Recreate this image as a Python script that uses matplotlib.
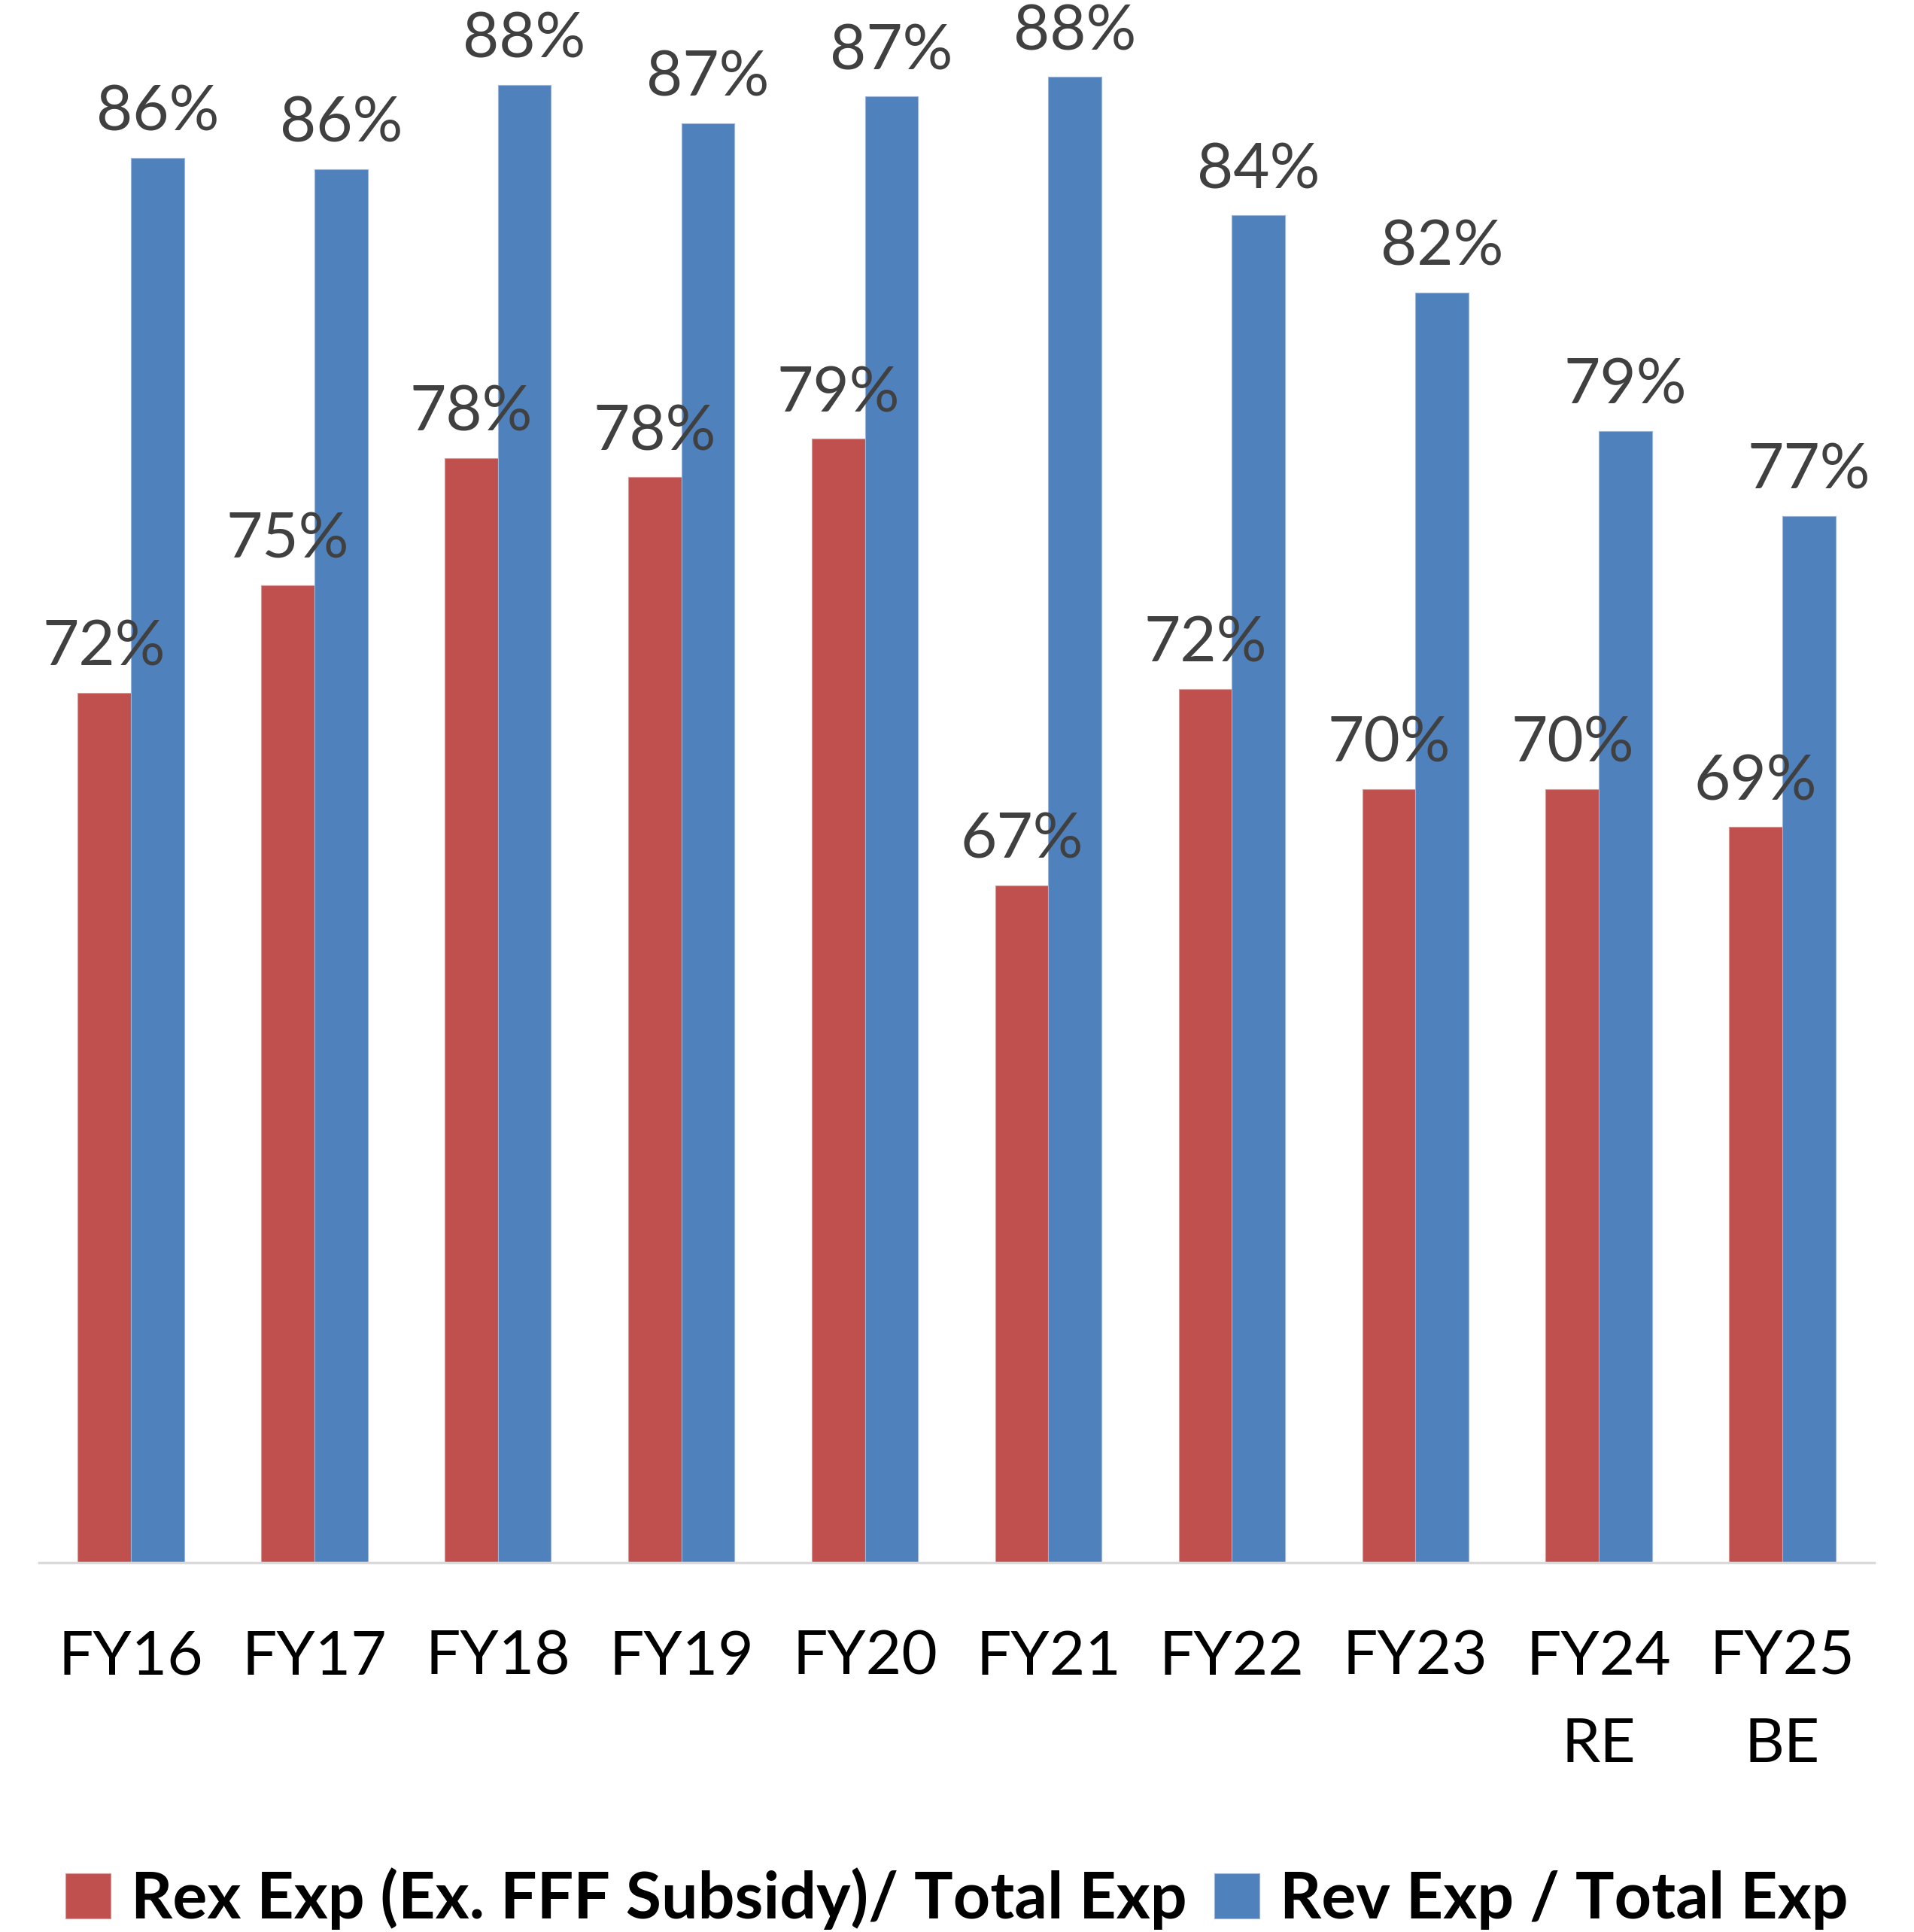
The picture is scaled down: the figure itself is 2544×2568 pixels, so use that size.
import matplotlib
matplotlib.use("Agg")
import matplotlib.pyplot as plt
import numpy as np

categories = ["FY16", "FY17", "FY18", "FY19", "FY20", "FY21", "FY22", "FY23", "FY24\nRE", "FY25\nBE"]
rex_exp = [72.0, 74.8, 78.1, 77.6, 78.6, 67.0, 72.1, 69.5, 69.5, 68.51]
rev_exp = [85.9, 85.6, 87.8, 86.8, 87.49, 88.0, 84.4, 82.4, 78.8, 76.6]
series_names = ["Rex Exp (Ex. FFF Subsidy)/ Total Exp", "Rev Exp / Total Exp"]

RED = "#C0504D"
BLUE = "#4F81BD"
FONT = ["Lato", "DejaVu Sans"]
plt.rcParams["font.family"] = FONT

fig = plt.figure(figsize=(25.44, 25.68), dpi=100)
ax = fig.add_axes([52 / 2544, 1 - 2077 / 2568, (2491 - 52) / 2544, 2077 / 2568])

x = np.arange(len(categories))
w = 0.29
base = 49.4
b1 = ax.bar(x - w / 2, [v - base for v in rex_exp], w, bottom=base, color=RED,
            edgecolor="#D99795", linewidth=0.8, label=series_names[0])
b2 = ax.bar(x + w / 2, [v - base for v in rev_exp], w, bottom=base, color=BLUE,
            edgecolor="#9DB5D9", linewidth=0.8, label=series_names[1])

for bars, vals in ((b1, rex_exp), (b2, rev_exp)):
    for rect, v in zip(bars, vals):
        ax.annotate(f"{v:.0f}%", (rect.get_x() + rect.get_width() / 2, v),
                    xytext=(0, 26), textcoords="offset points", ha="center",
                    va="baseline", fontsize=60, color="#404040", annotation_clip=False)

ax.set_xlim(-0.5, len(categories) - 0.5)
ax.set_ylim(base, 90.0)
ax.set_yticks([])
ax.set_xticks(x)
ax.set_xticklabels(categories, fontsize=59, color="black", linespacing=1.7)
ax.tick_params(axis="x", length=0, pad=64)
for s in ("top", "right", "left"):
    ax.spines[s].set_visible(False)
ax.spines["bottom"].set_color("#D9D9D9")
ax.spines["bottom"].set_linewidth(2.5)

leg = fig.legend(handles=[b1, b2], labels=series_names, loc="center",
                 bbox_to_anchor=(0.5, 1 - 2524 / 2568), ncol=2, frameon=False,
                 prop={"family": FONT, "weight": "bold", "size": 62},
                 handlelength=0.69, handleheight=0.69, handletextpad=0.32,
                 columnspacing=0.42, borderaxespad=0, borderpad=0)

fig.savefig("out.png", dpi=100)
